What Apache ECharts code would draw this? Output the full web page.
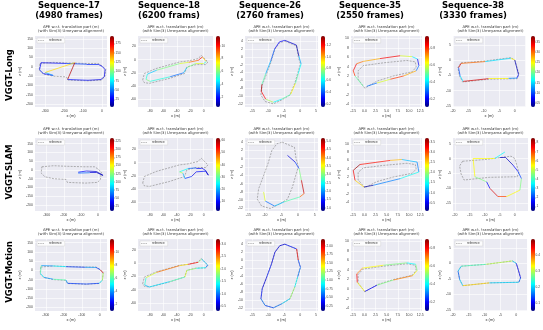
<!DOCTYPE html>
<html>
<head>
<meta charset="utf-8">
<script src="https://cdn.jsdelivr.net/npm/echarts@6/dist/echarts.min.js"></script>
<style>
html, body { margin: 0; padding: 0; background: #fff; }
#chart { width: 543px; height: 330px; }
</style>
</head>
<body>
<div id="chart"></div>
<script>
const methods = ['VGGT-Long', 'VGGT-SLAM', 'VGGT-Motion'];
const sequences = ['Sequence-17', 'Sequence-18', 'Sequence-26', 'Sequence-35', 'Sequence-38'];
const frameLabels = ['(4980 frames)', '(6200 frams)', '(2760 frames)', '(2550 frames)', '(3330 frames)'];

// ground truth paths [x, z]
const ref17 = [[-328,18],[-325,27],[-260,24],[-188,21],[-82,18],[-21,18],[2,4],[19,-14],[14,-54],[-4,-71],[-74,-75],[-179,-71],[-188,-54],[-258,-50],[-310,-39],[-332,-18],[-328,18]];
const ref18 = [[-91,-31],[-88.5,-21],[-71,-13.5],[-36,-3.5],[-23.5,-2],[-8.5,1.5],[-3.5,6.5],[6.5,-3.5],[3,-7.5],[-11,-7.5],[-25,-11],[-28.5,-21],[-51,-28.5],[-81,-36],[-88.5,-35],[-91,-31]];
const ref26 = [[-4.8,4],[-1.1,2.75],[-0.6,0],[0.1,-1.8],[-0.8,-4.3],[-1.7,-6.8],[-3.2,-9.75],[-5.8,-11],[-8.4,-12],[-11,-11.4],[-12.3,-9.75],[-11.9,-7.25],[-10.5,-4.3],[-9,-1],[-7.9,2],[-6.4,3.6],[-4.8,4]];
const ref35 = [[0.1,-0.6],[-1.4,1.3],[-1.4,3.1],[-0.25,4.2],[4.3,4.8],[9.5,5.3],[11.4,5],[11.6,3.9],[10.7,2.9],[6.5,2],[2.8,0.9],[0.1,-0.6]];
const ref38 = [[-17.4,-0.9],[-9.6,-0.3],[-1.25,0.8],[0,0],[0.6,-2],[1.35,-4.7],[0.8,-6.1],[-8.5,-6.3],[-16.9,-7.2],[-17.9,-5.2],[-18.4,-2.5],[-17.4,-0.9]];

// estimated paths [x, z, APE]
const long17 = [[-21,14,30],[-82,14,35],[-188,18,40],[-260,20,30],[-322,22,25],[-330,-16,30],[-310,-36,35],[-258,-46,30],[-300,-30,60],[-144,22,130],[-182,-68,185],[-179,-68,40],[-74,-72,30],[-6,-68,25],[12,-52,20],[16,-14,25],[0,2,30],[-21,14,30]];
const long18 = [[-86,-30,6],[-84,-22,5],[-70,-16,4],[-36,-6,6],[-22,-4,7],[-8,-1,9],[-2,4,10],[4,-3,8],[0,-6,5],[-12,-6,7],[-25,-12,6],[-30,-20,4],[-50,-26,3],[-80,-33,5],[-86,-30,6]];
const long26 = [[-4.8,4.2,0.3],[-1.2,3,0.25],[-0.4,0.2,0.2],[0.3,-1.8,0.5],[-0.6,-4.3,0.6],[-1.5,-6.8,0.7],[-3,-9.6,0.9],[-5.8,-10.8,0.7],[-8.4,-11.6,0.6],[-10.8,-10.8,0.8],[-12.2,-8.8,1.2],[-12,-7,1.3],[-10.8,-4.3,0.7],[-9.2,-1,0.5],[-8,2,0.4],[-6.5,3.8,0.3],[-4.8,4.2,0.3]];
const long35 = [[-0.25,-0.2,0.1],[-2.1,2,0.5],[-2.5,3.1,0.8],[-1.75,4.6,0.85],[-0.25,5.1,0.75],[3.5,5.7,0.7],[8,6.3,0.85],[10.7,6.1,0.6],[11.9,5.6,0.4],[12.2,4.2,0.2],[11.6,3.1,0.3],[8.8,2,0.7],[5.8,1.3,0.8],[2.8,0.5,0.6],[0.5,-0.2,0.3]];
const long38 = [[0,0,0.05],[-1.25,0.6,0.25],[-9.6,-0.5,0.15],[-17.4,-1.1,0.3],[-18.2,-2.5,0.35],[-17.7,-5.2,0.1],[-16.7,-7,0.15],[-8.5,-6.1,0.35],[-2,-6,0.25],[0.7,-5.9,0.12],[1.2,-4.7,0.08],[0.5,-2,0.05],[0,0,0.05]];

const slam17 = [[-116,-13,110],[-68,-6,40],[-10,-9,30],[29,-31,20],[-10,-14,25],[-48,-16,30],[-116,-18,60]];
const slam18 = [[-36,-14,35],[-23,-9,25],[-11,-8,15],[-3,-8,10],[3,-12,8],[7,-19,5],[3,-13,8],[-11,-14,10],[-18,-21,8],[-28,-24,12],[-31,-16,20],[-36,-14,35]];
const slam26 = [[-3.2,0.8,1.0],[-0.9,-0.8,1.2],[0.3,-2.4,1.6],[1,-5.2,3.0],[1.8,-8.4,4.9],[0.55,-9.2,4.2],[-4.2,-10.4,2.8],[-7.1,-11.4,2.2],[-9.9,-10.2,1.8],[-10.4,-8,3.4]];
const slam35 = [[-0.1,-0.4,0.2],[-2.1,1.2,2.5],[-2.5,3.6,3.3],[-1,5,3.6],[5.8,6,3.2],[8.4,6.2,2.6],[11.8,5.6,1.2],[12.2,3.2,1.0],[8,1.6,1.5],[2,0,1.0],[-0.1,-0.4,0.2]];
const slam38 = [[-3.3,2.2,3],[-6.7,0,3.5],[-13.9,0,5.5],[-13.3,-6.1,5.5],[-9.4,-7.8,4.5],[-8.3,-10,1.5],[-5.6,-12.8,7.8],[-2.8,-12.8,7],[1.7,-10.6,5.5],[2.2,-6.7,4.5],[1.1,-4.4,2],[-0.6,-2.2,1.5],[-3.3,0.6,1],[-5,0.6,1]];

const motion17 = [[-21,16,3],[-82,17,4],[-188,20,3],[-260,24,5],[-325,26,4],[-330,-16,6],[-310,-38,5],[-258,-48,4],[-188,-52,6],[-179,-70,4],[-74,-74,3],[-4,-70,3],[14,-54,5],[19,-14,7],[2,4,11],[-21,16,3]];
const motion18 = [[-88,-33,1.2],[-86,-22,1.5],[-70,-14,2],[-36,-4,2.5],[-23,-2,2.2],[-8,1,2.8],[-3,6,1.8],[6,-3,1.2],[3,-7,1.0],[-11,-8,1.4],[-25,-11,1.8],[-28,-21,2.0],[-51,-28,1.6],[-81,-36,1.3],[-88,-33,1.2]];
const motion26 = [[-4.8,4,0.3],[-1.1,2.8,0.4],[-0.6,0,2.0],[0.1,-1.8,0.5],[-0.8,-4.3,0.6],[-1.7,-6.8,0.9],[-3.2,-9.7,1.2],[-5.8,-11,0.8],[-8.4,-12,0.6],[-11,-11.4,0.5],[-12.3,-9.7,0.6],[-11.9,-7.2,0.4],[-10.5,-4.3,0.3],[-9,-1,0.4],[-7.9,2,0.3],[-6.4,3.6,0.3],[-4.8,4,0.3]];
const motion35 = [[0.1,-0.5,0.2],[-1.6,1.4,0.6],[-1.7,3.2,0.8],[-0.4,4.4,0.7],[4.3,5,0.6],[9.5,5.5,0.5],[11.5,5.2,0.4],[11.8,3.9,0.5],[10.8,2.8,0.6],[6.5,1.9,0.7],[2.8,0.8,0.5],[0.1,-0.5,0.2]];
const motion38 = [[0,0,0.1],[-1.25,0.8,0.2],[-9.6,-0.3,0.3],[-17.4,-0.9,0.25],[-18.4,-2.5,0.2],[-17.9,-5.2,0.15],[-16.9,-7.2,0.2],[-8.5,-6.3,0.35],[0.8,-6.1,0.2],[1.35,-4.7,0.15],[0.6,-2,0.1],[0,0,0.1]];

const refs = [ref17, ref18, ref26, ref35, ref38];
const ests = [
  [long17, long18, long26, long35, long38],
  [slam17, slam18, slam26, slam35, slam38],
  [motion17, motion18, motion26, motion35, motion38]
];

// axis extents per row / column
const xRanges = [
  [[-354,26],[-98,14],[-17.3,5.6],[-3,12.9],[-20,3.4]],
  [[-368,52],[-98,14],[-16,6],[-3,12.9],[-20.6,4.4]],
  [[-360,40],[-98,14],[-17.3,5.6],[-3,12.9],[-20,3.4]]
];
const yRanges = [
  [[-215,165],[-72,36],[-12.8,5.3],[-4.6,10.5],[-15.4,7.9]],
  [[-234,182],[-73,37],[-12.6,5],[-6.2,11.4],[-17.6,6.9]],
  [[-220,170],[-72,36],[-12.8,5.3],[-4.6,10.5],[-15.4,7.9]]
];
const xTicks = [[-300,-200,-100,0],[-80,-60,-40,-20,0],[-15,-10,-5,0,5],[-2.5,0,2.5,5,7.5,10,12.5],[-20,-15,-10,-5,0]];
const yTicks = [[-200,-150,-100,-50,0,50,100,150],[-60,-40,-20,0,20],[-12,-10,-8,-6,-4,-2,0,2,4],[-4,-2,0,2,4,6,8,10],[-15,-10,-5,0,5]];

// colorbar extents and ticks (APE, m)
const cbRanges = [
  [[5,195],[0.5,11.5],[0.15,1.35],[0.1,0.95],[0.03,0.38]],
  [[10,235],[2,62],[0.8,5.2],[0.1,3.7],[0.5,8.5]],
  [[1,12],[0.3,3.2],[0.1,2.2],[0.1,0.9],[0.05,0.5]]
];
const cbTicks = [
  [[25,50,75,100,125,150,175],[2,4,6,8,10],[0.2,0.4,0.6,0.8,1.0,1.2],[0.2,0.4,0.6,0.8],[0.05,0.10,0.15,0.20,0.25,0.30,0.35]],
  [[25,50,75,100,125,150,175,200,225],[10,20,30,40,50,60],[1.0,1.5,2.0,2.5,3.0,3.5,4.0,4.5,5.0],[0.5,1.0,1.5,2.0,2.5,3.0,3.5],[1,2,3,4,5,6,7,8]],
  [[2,4,6,8,10],[0.5,1.0,1.5,2.0,2.5,3.0],[0.25,0.50,0.75,1.00,1.25,1.50,1.75,2.00],[0.2,0.4,0.6,0.8],[0.1,0.2,0.3,0.4]]
];
const cbDecimals = [[0,0,1,1,2],[0,0,1,1,0],[0,1,2,1,1]];
const xDecimals = [0,0,0,1,0];

const JET = ['#00007f','#0000ff','#007fff','#00ffff','#7fff7f','#ffff00','#ff7f00','#ff0000','#7f0000'];

const colLeft = [35, 138, 245, 351, 453];
const colRight = [107, 213, 318, 422, 528];
const rowTop = [36, 138, 239];
const rowBottom = [107, 211, 311];
const headerX = [69, 169, 270, 370, 473];
const rowLabelY = [75, 172, 272];
const CB_GAP = 3, CB_W = 4;
const DASH_ICON = 'path://M0,0H4V1H0Z M6,0H10V1H6Z M12,0H16V1H12Z';

function hexToRgb(h) {
  return [parseInt(h.slice(1,3),16), parseInt(h.slice(3,5),16), parseInt(h.slice(5,7),16)];
}
function jetColor(v, lo, hi) {
  let t = (v - lo) / (hi - lo);
  t = Math.max(0, Math.min(1, t));
  const p = t * (JET.length - 1);
  const k = Math.min(JET.length - 2, Math.floor(p));
  const f = p - k;
  const a = hexToRgb(JET[k]), b = hexToRgb(JET[k + 1]);
  const c = a.map((x, j) => Math.round(x + (b[j] - x) * f));
  return 'rgb(' + c.join(',') + ')';
}
const inRange = (vals, r) => vals.filter(v => v >= r[0] && v <= r[1]);

const chart = echarts.init(document.getElementById('chart'));

const grid = [], xAxis = [], yAxis = [], series = [], visualMap = [], legend = [], graphic = [];

for (let r = 0; r < 3; r++) {
  for (let c = 0; c < 5; c++) {
    const i = r * 5 + c;
    const w = colRight[c] - colLeft[c];
    const h = rowBottom[r] - rowTop[r];
    const cr = cbRanges[r][c];

    grid.push({
      left: colLeft[c], top: rowTop[r], width: w, height: h,
      show: true, backgroundColor: '#eaeaf2', borderWidth: 0
    });

    const xv = inRange(xTicks[c], xRanges[r][c]);
    xAxis.push({
      type: 'value', gridIndex: i,
      min: xRanges[r][c][0], max: xRanges[r][c][1],
      name: 'x (m)', nameLocation: 'middle', nameGap: 7,
      nameTextStyle: { fontSize: 4, color: '#333' },
      axisLine: { show: false },
      axisTick: { show: false, customValues: xv },
      axisLabel: { customValues: xv, fontSize: 3.5, color: '#444', margin: 2,
        formatter: v => v.toFixed(xDecimals[c]) },
      splitLine: { lineStyle: { color: '#fff', width: 0.6 } }
    });

    const yv = inRange(yTicks[c], yRanges[r][c]);
    yAxis.push({
      type: 'value', gridIndex: i,
      min: yRanges[r][c][0], max: yRanges[r][c][1],
      name: 'z (m)', nameLocation: 'middle', nameGap: 9, nameRotate: 90,
      nameTextStyle: { fontSize: 4, color: '#333' },
      axisLine: { show: false },
      axisTick: { show: false, customValues: yv },
      axisLabel: { customValues: yv, fontSize: 3.5, color: '#444', margin: 2 },
      splitLine: { lineStyle: { color: '#fff', width: 0.6 } }
    });

    // colorbar tick labels
    const cv = cbTicks[r][c];
    yAxis.push({
      type: 'value', gridIndex: i, position: 'right',
      offset: CB_GAP + CB_W,
      min: cr[0], max: cr[1],
      axisLine: { show: false },
      axisTick: { show: true, length: 1, customValues: cv, lineStyle: { color: '#444', width: 0.4 } },
      axisLabel: { customValues: cv, fontSize: 3.2, color: '#444', margin: 1.5,
        formatter: v => v.toFixed(cbDecimals[r][c]) },
      splitLine: { show: false }
    });

    series.push({
      type: 'line', name: 'reference',
      xAxisIndex: i, yAxisIndex: 2 * i,
      data: refs[c], symbol: 'none', showSymbol: false,
      itemStyle: { color: '#808080' },
      lineStyle: { type: [2, 1.2], color: '#808080', width: 0.6 },
      silent: true, animation: false, z: 2
    });

    const est = ests[r][c];
    const segs = [];
    for (let k = 1; k < est.length; k++) {
      const a = est[k - 1], b = est[k];
      segs.push({
        coords: [[a[0], a[1]], [b[0], b[1]]],
        value: b[2],
        lineStyle: { color: jetColor(b[2], cr[0], cr[1]) }
      });
    }
    series.push({
      type: 'lines', coordinateSystem: 'cartesian2d',
      xAxisIndex: i, yAxisIndex: 2 * i,
      data: segs, polyline: false,
      lineStyle: { width: 0.7, opacity: 1 },
      silent: true, animation: false, z: 3
    });

    visualMap.push({
      type: 'continuous', min: cr[0], max: cr[1],
      seriesIndex: [2 * i + 1],
      inRange: { color: JET },
      left: colRight[c] + CB_GAP, top: rowTop[r],
      itemWidth: CB_W, itemHeight: h,
      calculable: false, text: null, padding: 0, hoverLink: false
    });

    legend.push({
      data: [{ name: 'reference', icon: DASH_ICON, itemStyle: { color: '#808080' } }],
      left: colLeft[c] + 2, top: rowTop[r] + 2,
      itemWidth: 6, itemHeight: 0.6, itemGap: 1,
      textStyle: { fontSize: 3, color: '#333' },
      backgroundColor: 'rgba(255,255,255,0.85)', borderColor: '#cccccc', borderWidth: 0.4,
      padding: [1, 3, 1, 1], selectedMode: false
    });

    const cx = (colLeft[c] + colRight[c]) / 2;
    graphic.push({ type: 'text', x: cx, y: rowTop[r] - 9,
      style: { text: 'APE w.r.t. translation part (m)', fontSize: 3.8, fill: '#333',
        fontFamily: 'DejaVu Sans', align: 'center', verticalAlign: 'middle' } });
    graphic.push({ type: 'text', x: cx, y: rowTop[r] - 4.5,
      style: { text: '(with Sim(3) Umeyama alignment)', fontSize: 3.8, fill: '#333',
        fontFamily: 'DejaVu Sans', align: 'center', verticalAlign: 'middle' } });
  }
}

sequences.forEach((s, c) => {
  graphic.push({ type: 'text', x: headerX[c], y: 6,
    style: { text: s, fontSize: 8.5, fontWeight: 'bold', fill: '#000',
      fontFamily: 'DejaVu Sans', align: 'center', verticalAlign: 'middle' } });
  graphic.push({ type: 'text', x: headerX[c], y: 16,
    style: { text: frameLabels[c], fontSize: 8.5, fontWeight: 'bold', fill: '#000',
      fontFamily: 'DejaVu Sans', align: 'center', verticalAlign: 'middle' } });
});
methods.forEach((m, r) => {
  graphic.push({ type: 'text', x: 10, y: rowLabelY[r], rotation: Math.PI / 2,
    style: { text: m, fontSize: 8.5, fontWeight: 'bold', fill: '#000',
      fontFamily: 'DejaVu Sans', align: 'center', verticalAlign: 'middle' } });
});

chart.setOption({
  animation: false,
  grid, xAxis, yAxis, series, visualMap, legend, graphic
});
</script>
</body>
</html>
